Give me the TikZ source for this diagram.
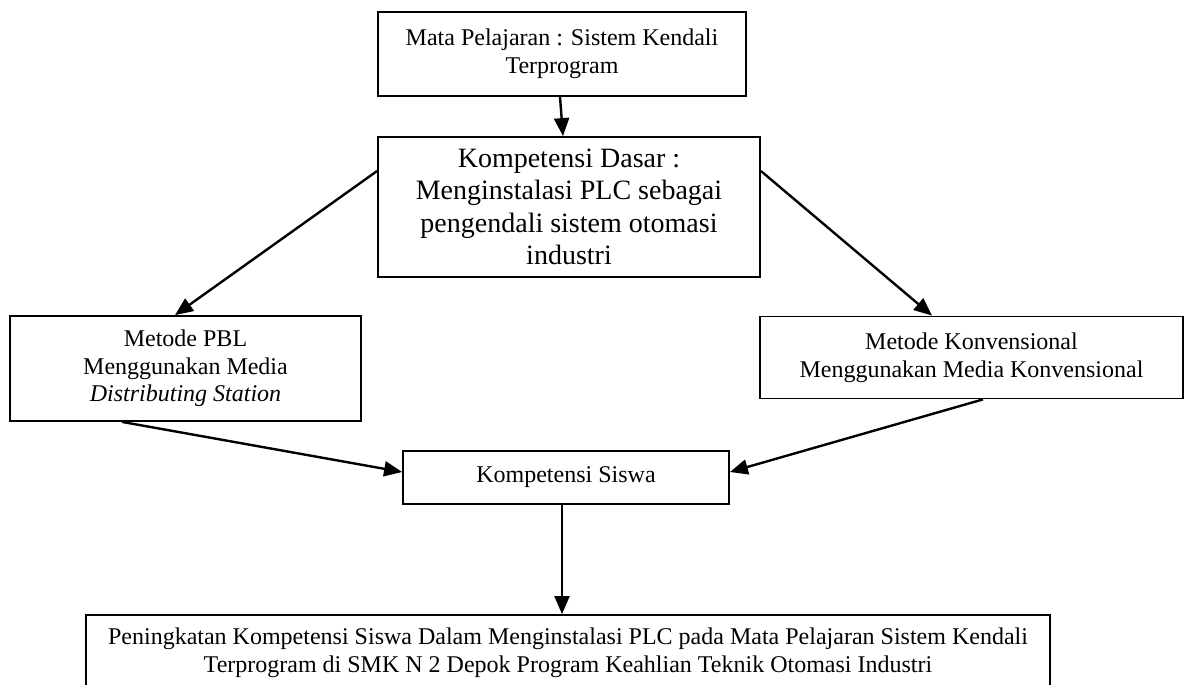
\documentclass[tikz,border=0pt]{standalone}
\usepackage{fontspec}
\setmainfont{Liberation Serif}
\usetikzlibrary{arrows.meta}
\begin{document}
\begin{tikzpicture}[x=0.5pt,y=-0.5pt,
  box/.style={draw,line width=0.9pt,rectangle,align=center,inner sep=0pt,
    font=\fontsize{12}{13.8}\selectfont},
  bigbox/.style={box,font=\fontsize{14}{16.2}\selectfont},
  arr/.style={line width=1.2pt,-{Triangle[length=9pt,width=7.5pt]}}]
\useasboundingbox (0,0) rectangle (1190,685);
\node[box,minimum width=184pt,minimum height=42pt] (b1) at (562,54)
  {Mata Pelajaran : Sistem Kendali\\Terprogram};
\node[bigbox,minimum width=191pt,minimum height=70pt] (b2) at (569,207)
  {Kompetensi Dasar :\\Menginstalasi PLC sebagai\\pengendali sistem otomasi\\industri};
\node[box,minimum width=175.5pt,minimum height=52.5pt] (b3) at (185.5,368.5)
  {Metode PBL\\Menggunakan Media\\\textit{Distributing Station}};
\node[box,minimum width=211.5pt,minimum height=41pt] (b4) at (971.5,357.5)
  {Metode Konvensional\\Menggunakan Media Konvensional};
\node[box,minimum width=163pt,minimum height=26.5pt] (b5) at (566,477.5)
  {Kompetensi Siswa};
\node[box,minimum width=482pt,minimum height=38pt] (b6) at (568,653)
  {Peningkatan Kompetensi Siswa Dalam Menginstalasi PLC pada Mata Pelajaran Sistem Kendali\\Terprogram di SMK N 2 Depok Program Keahlian Teknik Otomasi Industri};
\draw[arr] ([xshift=-1pt]b1.south) -- ([xshift=-3pt]b2.north);
\draw[arr] ([yshift=18pt]b2.west) -- ([xshift=-5.25pt]b3.north);
\draw[arr] ([yshift=18pt]b2.east) -- ([xshift=-19.75pt]b4.north);
\draw[arr] ([xshift=-31.75pt]b3.south) -- ([yshift=2.75pt]b5.west);
\draw[arr] ([xshift=5.75pt]b4.south) -- ([yshift=2.75pt]b5.east);
\draw[arr] ([xshift=-2pt]b5.south) -- ([xshift=-2pt]b5.south |- b6.north);
\end{tikzpicture}
\end{document}
